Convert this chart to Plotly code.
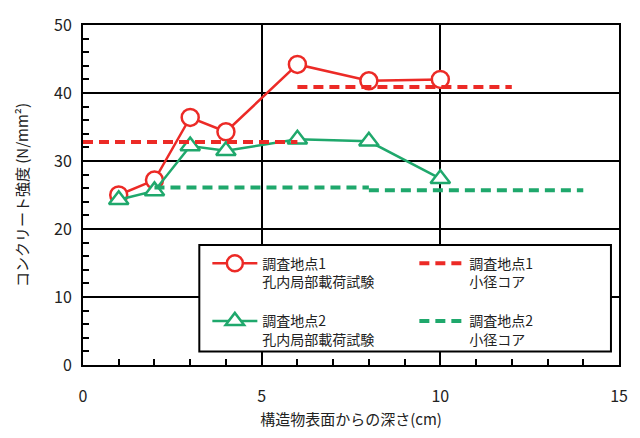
import plotly.graph_objects as go

# Depth (cm) of the in-hole local loading tests
depth = [1, 2, 3, 4, 6, 8, 10]
# Concrete strength (N/mm²) from the in-hole local loading test
site1_loading = [25.0, 27.2, 36.4, 34.3, 44.2, 41.8, 42.0]
site2_loading = [24.3, 25.6, 32.2, 31.5, 33.2, 32.9, 27.4]

# Small-diameter cores: depth range (cm) and strength (N/mm²)
site1_core_from = [0, 6]
site1_core_to = [6, 12]
site1_core_strength = [32.8, 40.9]
site2_core_from = [2, 8]
site2_core_to = [8, 14]
site2_core_strength = [26.1, 25.7]

x_ticks = [0, 5, 10, 15]
y_ticks = [0, 10, 20, 30, 40, 50]

RED = "#ec2a26"
GREEN = "#1fa86c"
JP_FONT = "Noto Sans CJK JP"


def segments(starts, ends, values):
    """Horizontal step segments separated by gaps."""
    xs, ys = [], []
    for a, b, v in zip(starts, ends, values):
        xs += [a, b, None]
        ys += [v, v, None]
    return xs, ys


def entry(*lines):
    # trailing blank line gives extra room between legend rows
    return "<br>".join(lines) + "<br> "


fig = go.Figure()

fig.add_trace(go.Scatter(
    x=depth, y=site1_loading, mode="lines+markers",
    name=entry("調査地点1", "孔内局部載荷試験"), legendrank=1,
    line=dict(color=RED, width=2.5),
    marker=dict(symbol="circle", size=17, color="white",
                line=dict(color=RED, width=2.5)),
))
fig.add_trace(go.Scatter(
    x=depth, y=site2_loading, mode="lines+markers",
    name=entry("調査地点2", "孔内局部載荷試験"), legendrank=3,
    line=dict(color=GREEN, width=2.5),
    marker=dict(symbol="triangle-up", size=17, color="white",
                line=dict(color=GREEN, width=2.5)),
))

cx1, cy1 = segments(site1_core_from, site1_core_to, site1_core_strength)
fig.add_trace(go.Scatter(
    x=cx1, y=cy1, mode="lines",
    name=entry("調査地点1", "小径コア"), legendrank=2,
    line=dict(color=RED, width=4, dash="10px,6px"),
))
cx2, cy2 = segments(site2_core_from, site2_core_to, site2_core_strength)
fig.add_trace(go.Scatter(
    x=cx2, y=cy2, mode="lines",
    name=entry("調査地点2", "小径コア"), legendrank=4,
    line=dict(color=GREEN, width=4, dash="10px,6px"),
))

axis_common = dict(
    showline=True, linecolor="black", linewidth=2, mirror=True,
    showgrid=True, gridcolor="black", gridwidth=1.5,
    ticks="inside", ticklen=6, tickcolor="black", tickwidth=1.5,
    zeroline=False,
    tickfont=dict(family=JP_FONT, size=16, color="#222"),
)

fig.update_xaxes(
    range=[0, 15], tickvals=x_ticks, ticklabelstandoff=16,
    minor=dict(dtick=1, ticks="inside", ticklen=6, tickcolor="black", tickwidth=1.5),
    title=dict(text="構造物表面からの深さ(cm)", standoff=8,
               font=dict(family=JP_FONT, size=15, color="#222")),
    **axis_common,
)
fig.update_yaxes(
    range=[0, 50], tickvals=y_ticks, ticklabelstandoff=6,
    minor=dict(dtick=2, ticks="inside", ticklen=6, tickcolor="black", tickwidth=1.5),
    title=dict(text="コンクリート強度 (N/mm²)", standoff=22,
               font=dict(family=JP_FONT, size=15, color="#222")),
    **axis_common,
)

# Legend frame: white box with a black border over the grid
fig.add_shape(
    type="rect", xref="paper", yref="paper",
    x0=0.217, x1=0.985, y0=0.040, y1=0.353,
    fillcolor="white", line=dict(color="black", width=2), layer="above",
)

fig.update_layout(
    width=640, height=438,
    margin=dict(l=83, r=18, t=18, b=72),
    paper_bgcolor="white", plot_bgcolor="white",
    showlegend=True,
    legend=dict(
        orientation="h", x=0.232, y=0.345, xanchor="left", yanchor="top",
        entrywidth=147, itemwidth=45, valign="top", tracegroupgap=0,
        bgcolor="rgba(0,0,0,0)", borderwidth=0,
        font=dict(family=JP_FONT, size=14, color="#222"),
    ),
)

fig.write_html("out.html")
